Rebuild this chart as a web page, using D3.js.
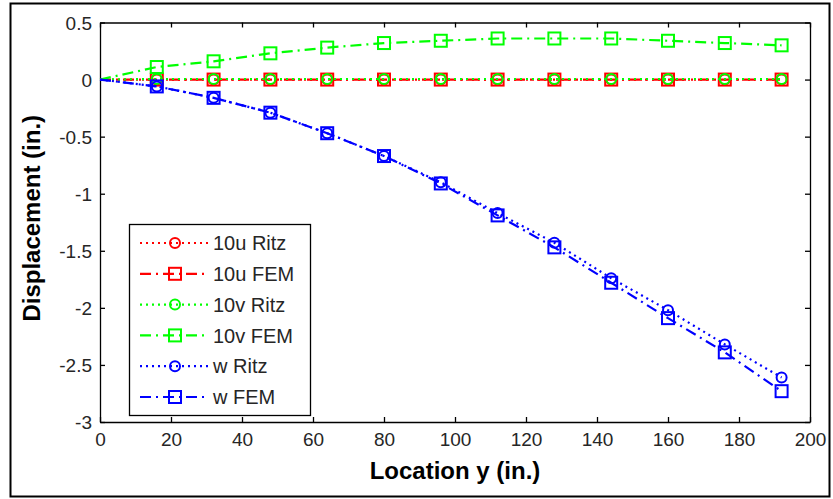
<!DOCTYPE html>
<html>
<head>
<meta charset="utf-8">
<script src="https://cdn.jsdelivr.net/npm/d3@7"></script>
<style>
  body { margin: 0; background: #fff; }
  svg text { font-family: "Liberation Sans", Arial, sans-serif; }
</style>
</head>
<body>
<div id="vis"></div>
<script>
// location along the member (in.)
const locations = [0, 16, 32, 48, 64, 80, 96, 112, 128, 144, 160, 176, 192]

// displacements
const uRitz = [0, 0, 0, 0, 0, 0, 0, 0, 0, 0, 0, 0, 0]
const uFEM  = [0, 0, 0, 0, 0, 0, 0, 0, 0, 0, 0, 0, 0]
const vRitz = [0, 0.005, 0.005, 0.005, 0.005, 0.005, 0.005, 0.005, 0.005, 0.005, 0.005, 0.005, 0.005]
const vFEM  = [0, 0.11, 0.16, 0.23, 0.28, 0.32, 0.34, 0.36, 0.36, 0.36, 0.34, 0.32, 0.30]
const wRitz = [0, -0.06, -0.16, -0.29, -0.47, -0.67, -0.90, -1.17, -1.43, -1.74, -2.02, -2.32, -2.61]
const wFEM  = [0, -0.06, -0.16, -0.29, -0.47, -0.67, -0.91, -1.19, -1.47, -1.78, -2.09, -2.39, -2.73]

const seriesNames = ['10u Ritz', '10u FEM', '10v Ritz', '10v FEM', 'w Ritz', 'w FEM']
const seriesValues = [uRitz, uFEM, vRitz, vFEM, wRitz, wFEM]
const seriesColors = ['#ff0000', '#ff0000', '#00ff00', '#00ff00', '#0000ff', '#0000ff']

const xTicks = [0, 20, 40, 60, 80, 100, 120, 140, 160, 180, 200]
const yTicks = [0.5, 0, -0.5, -1, -1.5, -2, -2.5, -3]

const W = 833, H = 499
const margin = {left: 100, top: 22.5, right: 23, bottom: 77}

const svg = d3.select('#vis').append('svg')
    .attr('width', W)
    .attr('height', H)

// figure border
svg.append('rect')
    .attr('x', 10.5).attr('y', 3.5)
    .attr('width', 819).attr('height', 493)
    .attr('fill', 'none').attr('stroke', '#000').attr('stroke-width', 2)

const x = d3.scaleLinear().domain([0, 200]).range([margin.left, W - margin.right])
const y = d3.scaleLinear().domain([-3, 0.5]).range([H - margin.bottom, margin.top])

const styles = {
    Ritz: {dash: '2,4', marker: 'circle'},
    FEM: {dash: '11,5,2,5', marker: 'square'}
}

// axes (ticks inside, box all round)
const tickLen = 5
const fmt = d => String(d)
const gx = svg.append('g').attr('transform', `translate(0,${y(-3)})`)
    .call(d3.axisBottom(x).tickValues(xTicks).tickFormat(fmt).tickSizeInner(-tickLen).tickSizeOuter(0).tickPadding(11))
const gy = svg.append('g').attr('transform', `translate(${x(0)},0)`)
    .call(d3.axisLeft(y).tickValues(yTicks).tickFormat(fmt).tickSizeInner(-tickLen).tickSizeOuter(0).tickPadding(8))
const gt = svg.append('g').attr('transform', `translate(0,${y(0.5)})`)
    .call(d3.axisTop(x).tickValues(xTicks).tickSizeInner(-tickLen).tickSizeOuter(0).tickFormat(''))
const gr = svg.append('g').attr('transform', `translate(${x(200)},0)`)
    .call(d3.axisRight(y).tickValues(yTicks).tickSizeInner(-tickLen).tickSizeOuter(0).tickFormat(''))

;[gx, gy, gt, gr].forEach(g => {
    g.selectAll('path, line').attr('stroke', '#000').attr('stroke-width', 1.3)
    g.selectAll('text').attr('font-size', 19).attr('fill', '#262626')
        .style('font-family', '"Liberation Sans", Arial, sans-serif')
})
gy.selectAll('text').attr('dy', '0.35em')

// axis titles
svg.append('text')
    .attr('x', (x(0) + x(200)) / 2).attr('y', 479)
    .attr('text-anchor', 'middle').attr('font-size', 24).attr('font-weight', 'bold')
    .text('Location y (in.)')
svg.append('text')
    .attr('transform', `translate(40,${(y(0.5) + y(-3)) / 2 - 4}) rotate(-90)`)
    .attr('text-anchor', 'middle').attr('font-size', 24).attr('font-weight', 'bold')
    .text('Displacement (in.)')

const line = d3.line().x((d, i) => x(locations[i])).y(d => y(d))

function drawMarker(g, type, cx, cy, color) {
    if (type === 'circle') {
        g.append('circle').attr('cx', cx).attr('cy', cy).attr('r', 5)
            .attr('fill', 'none').attr('stroke', color).attr('stroke-width', 2)
    } else {
        g.append('rect').attr('x', cx - 6).attr('y', cy - 6).attr('width', 12).attr('height', 12)
            .attr('fill', 'none').attr('stroke', color).attr('stroke-width', 2)
    }
}

const plot = svg.append('g')
seriesNames.forEach((name, k) => {
    const st = name.endsWith('Ritz') ? styles.Ritz : styles.FEM
    const g = plot.append('g')
    g.append('path')
        .datum(seriesValues[k])
        .attr('d', line)
        .attr('fill', 'none')
        .attr('stroke', seriesColors[k])
        .attr('stroke-width', 2.2)
        .attr('stroke-dasharray', st.dash)
    seriesValues[k].forEach((v, i) => {
        if (i === 0) return
        drawMarker(g, st.marker, x(locations[i]), y(v), seriesColors[k])
    })
})

// legend
const legend = svg.append('g')
legend.append('rect')
    .attr('x', 129.5).attr('y', 224.5).attr('width', 181).attr('height', 191)
    .attr('fill', '#fff').attr('stroke', '#000').attr('stroke-width', 1.3)
seriesNames.forEach((name, k) => {
    const st = name.endsWith('Ritz') ? styles.Ritz : styles.FEM
    const ly = 243 + k * 30.8
    legend.append('line')
        .attr('x1', 140).attr('x2', 208).attr('y1', ly).attr('y2', ly)
        .attr('stroke', seriesColors[k]).attr('stroke-width', 2.2)
        .attr('stroke-dasharray', st.dash)
    drawMarker(legend, st.marker, 175, ly, seriesColors[k])
    legend.append('text')
        .attr('x', 213).attr('y', ly).attr('dy', '0.36em')
        .attr('font-size', 20).attr('fill', '#262626')
        .text(name)
})
</script>
</body>
</html>
